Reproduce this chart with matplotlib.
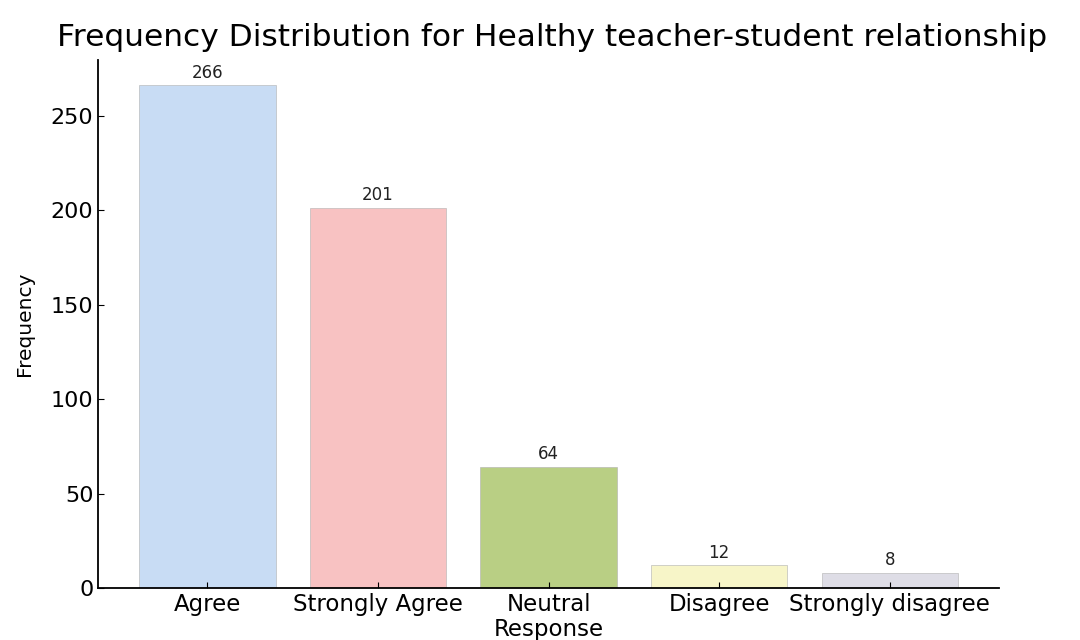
import matplotlib
matplotlib.use("Agg")
import matplotlib.pyplot as plt

categories = ["Agree", "Strongly Agree", "Neutral\nResponse", "Disagree", "Strongly disagree"]
frequencies = [266, 201, 64, 12, 8]
colors = ["#c8dcf4", "#f8c2c2", "#b9cf84", "#f7f5c8", "#dedde6"]

plt.rcParams['font.family'] = ['DejaVu Sans']
fig = plt.figure(figsize=(10.8, 6.4), dpi=100)
ax = fig.add_axes([0.091, 0.081, 0.834, 0.825])

x = list(range(len(categories)))
bars = ax.bar(x, frequencies, color=colors, width=0.8, edgecolor="#b0b0b0", linewidth=0.4)
for xi, v in zip(x, frequencies):
    ax.text(xi, v + 2, str(v), ha="center", va="bottom", fontsize=12, color="#222222")

ax.set_xticks(x)
ax.set_xticklabels(categories, fontsize=16.5, linespacing=1.1)
ax.set_yticks([0, 50, 100, 150, 200, 250])
ax.tick_params(axis="y", labelsize=16, direction="in", length=4)
ax.tick_params(axis="x", direction="in", length=4)
ax.set_ylabel("Frequency", fontsize=14.5, labelpad=12)
ax.set_title("Frequency Distribution for Healthy teacher-student relationship", fontsize=22.5, pad=10, x=0.504)
ax.spines["top"].set_visible(False)
ax.spines["right"].set_visible(False)
ax.spines["left"].set_linewidth(1.3)
ax.spines["bottom"].set_linewidth(1.3)

fig.savefig("out.png", dpi=100)
